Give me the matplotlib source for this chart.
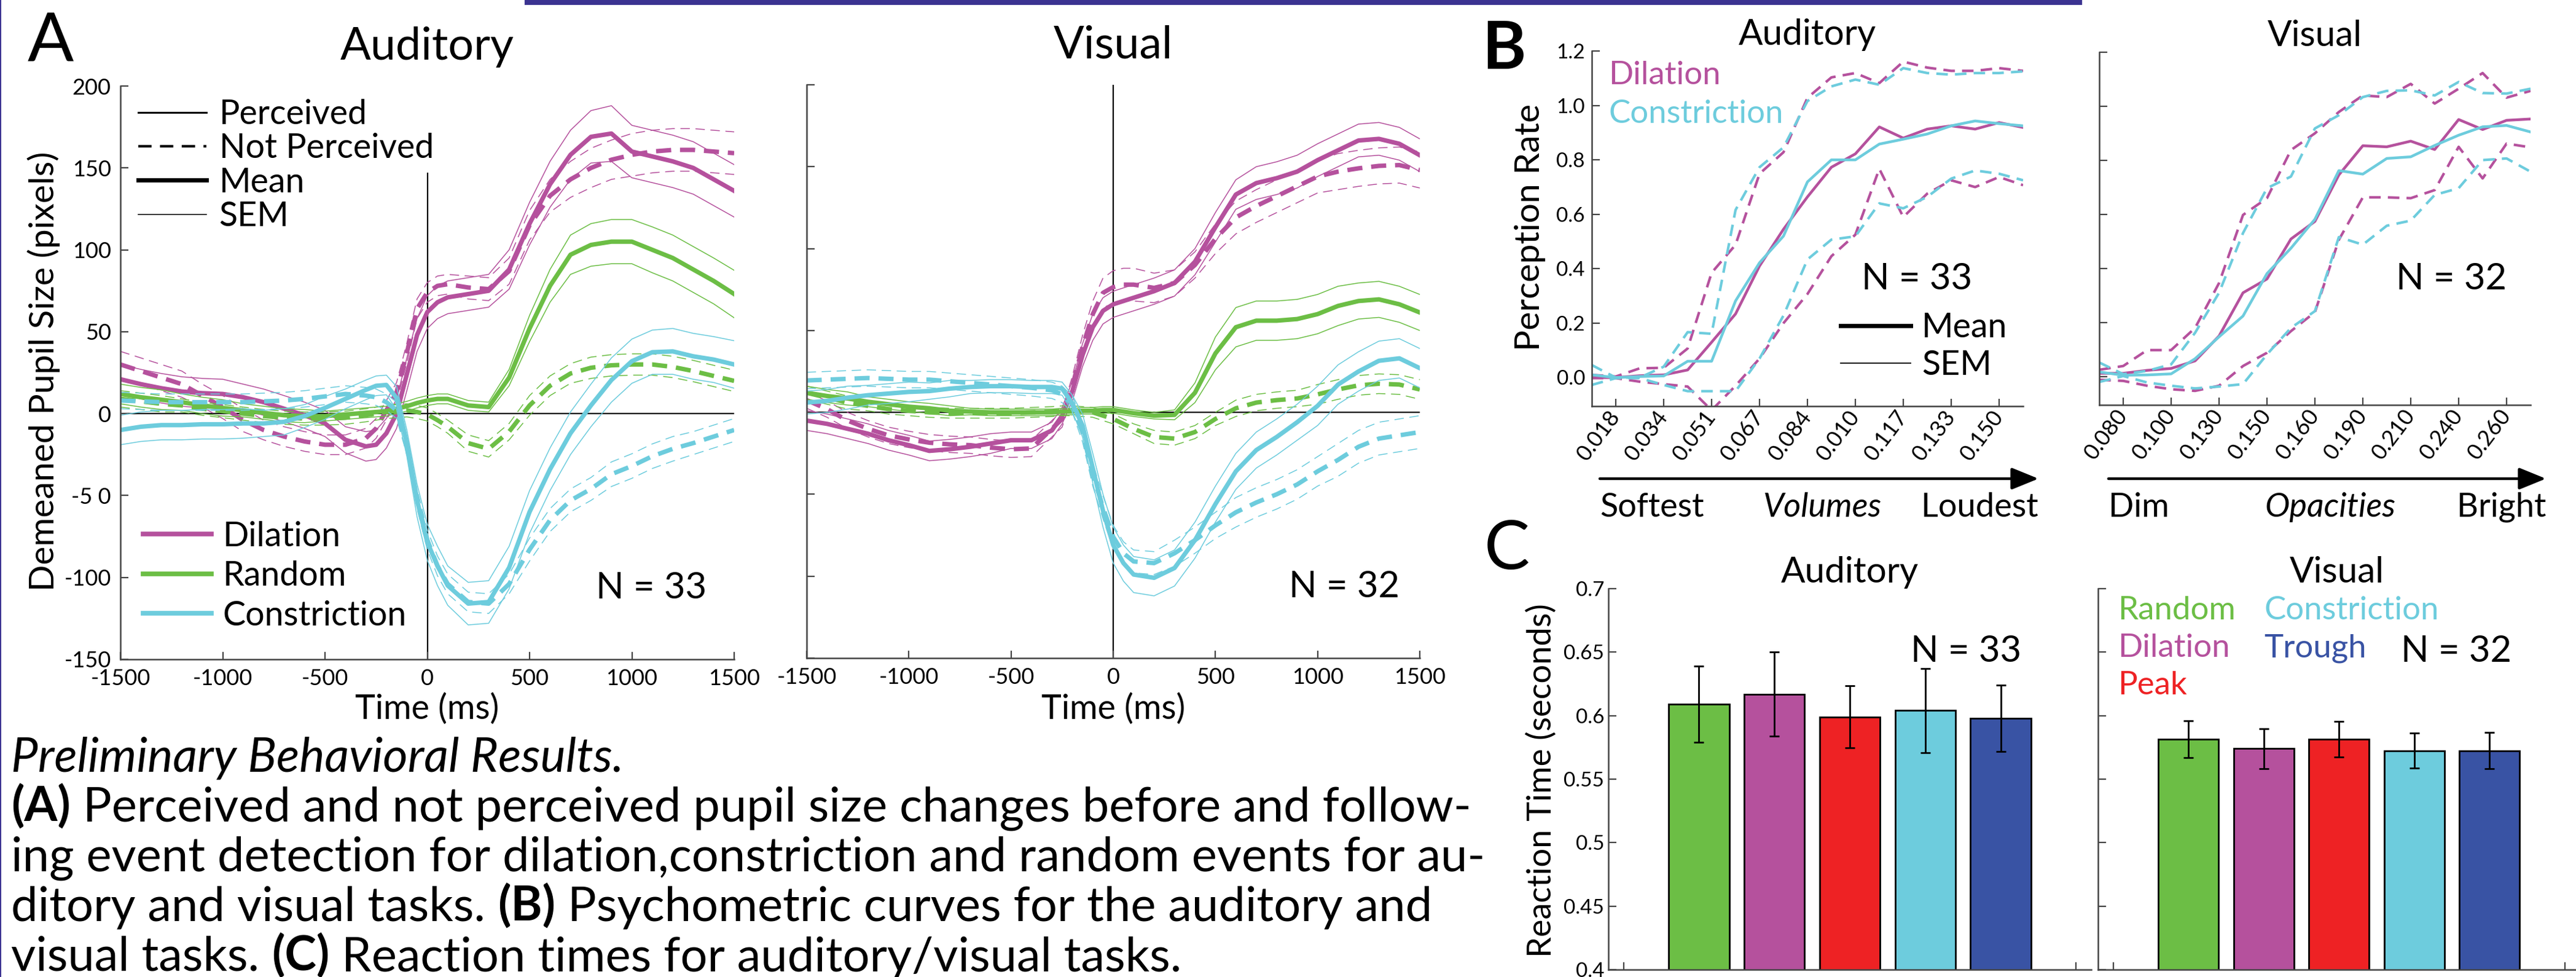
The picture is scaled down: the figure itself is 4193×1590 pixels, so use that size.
import numpy as np
import matplotlib.pyplot as plt
from matplotlib.lines import Line2D
from matplotlib.patches import Rectangle

plt.rcParams['font.family'] = ['Lato', 'DejaVu Sans']
plt.rcParams['axes.unicode_minus'] = False

# ============================================================
# Colours
# ============================================================
MAGENTA = '#B5519D'
GREEN = '#6CBE45'
CYAN = '#6DCCDD'
RED = '#EE2224'
BLUE = '#3953A4'
GREY = '#444444'
INDIGO = '#3B3391'

# ============================================================
# (A) pupil size time courses (pixels)
# ============================================================
T_MS = [-1500, -1400, -1300, -1200, -1100, -1000, -900, -800, -700, -600,
        -500, -400, -300, -250, -200, -150, -100, -50, 0, 50,
        100, 200, 300, 400, 500, 600, 700, 800, 900, 1000,
        1100, 1200, 1300, 1400, 1500]

# auditory
aud_dil_p = [21, 18, 15.5, 13.5, 12.5, 12, 10, 7, 3, -1,
             -6, -16, -20, -19, -12, 0, 24, 48, 62, 68,
             71, 73, 75, 88, 116, 140, 158, 169, 171, 160,
             157, 154, 150, 143, 136]
aud_dil_p_sem = [9, 9, 9, 9, 9, 9, 8, 8, 8, 8,
                 8, 8, 9, 9, 9, 9, 10, 10, 10, 10,
                 10, 10, 10, 12, 13, 14, 15, 16, 17, 16,
                 16, 16, 16, 16, 16]
aud_dil_np = [30, 26, 22, 18, 11, 4, -4, -10, -14, -17,
              -19, -19, -15, -9, 2, 13, 37, 64, 74, 78,
              79, 77, 76, 87, 115, 133, 143, 150, 155, 158,
              160, 161, 161, 160, 159]
aud_dil_np_sem = [8, 8, 8, 8, 7, 7, 7, 6, 6, 6,
                  6, 6, 6, 6, 6, 6, 6, 6, 6, 6,
                  6, 7, 7, 8, 9, 10, 11, 12, 12, 13,
                  13, 13, 13, 13, 13]
aud_rand_p = [12, 10, 8.5, 7, 5, 3.5, 2, 0.5, -1, -1.5,
              -1.5, -0.5, 0.5, 1, 1.5, 3, 4.5, 6.5, 8, 9,
              9, 5, 4, 22, 52, 78, 97, 103, 105, 105,
              100, 95, 88, 81, 73]
aud_rand_p_sem = [6, 6, 6, 5, 5, 5, 4, 4, 4, 4,
                  3, 3, 3, 3, 3, 3, 3, 3, 3, 3,
                  3, 3, 3, 5, 8, 10, 12, 13, 13.5, 13.5,
                  14, 14, 14, 14, 14.5]
aud_rand_np = [9, 7.5, 6, 5, 3, 1.5, 0, -1.5, -2.5, -3,
               -3, -2.5, -1, 0, 1, 1.5, 2, 1, -0.5, -4,
               -8, -18, -21.5, -11, 5, 17, 24.5, 28, 29.5, 30,
               30, 28.5, 26, 23, 20]
aud_rand_np_sem = [5, 5, 5, 4, 4, 4, 4, 4, 4, 4,
                   4, 4, 4, 4, 4, 4, 4, 4, 4, 4,
                   4, 5, 5, 5, 6, 6, 6, 6.5, 6.5, 6.5,
                   6.5, 6.5, 6.5, 6.5, 6.5]
aud_con_p = [-10, -8, -7, -7, -6.5, -6.5, -6, -6, -5, -1.5,
             3.5, 9, 14.5, 17, 17.5, 9.5, -18, -53, -78.5, -93,
             -105, -116, -115, -94, -60, -34, -12, 5, 20.5, 32,
             37.5, 38, 35, 33, 30]
aud_con_p_sem = [9, 9, 9, 9, 9, 9, 9, 8, 8, 7,
                 7, 6, 6, 6, 6, 7, 8, 10, 11, 12,
                 12, 13, 13, 13, 13, 13, 13, 13, 13.5, 13.5,
                 13.5, 14, 14, 14, 14.5]
aud_con_np = [8, 7.5, 7, 7, 7, 7, 7, 7.5, 8, 9,
              10.5, 12, 11, 10, 7, 2, -20, -52, -77, -93,
              -104, -115, -116, -104, -83, -65, -53, -46, -37, -32,
              -26, -21.5, -18, -14, -10]
aud_con_np_sem = [5, 5, 5, 5, 5, 5, 5, 5, 5, 5,
                  5, 5, 5, 5, 5, 5, 5, 6, 6, 6,
                  6, 6, 6, 6, 7, 7, 7, 7, 7.5, 7.5,
                  7.5, 7.5, 7, 7, 7]

# visual
vis_dil_p = [-5, -7, -10, -13, -17, -20, -23.5, -22.5, -21, -19,
             -17, -17, -11, -2, 13, 35, 52, 62, 66, 68,
             70, 74, 79, 92, 113, 133, 140, 143, 147, 154,
             160, 166, 167, 164, 157]
vis_dil_p_sem = [6, 6, 6, 6, 6, 6, 6, 6, 6, 6,
                 5, 5, 5, 5, 6, 7, 8, 8, 8, 8,
                 8, 8, 8, 8, 9, 9, 10, 10, 10, 10,
                 10, 10, 10, 10, 10]
vis_dil_np = [7.5, 2, -5, -10, -14, -16.5, -18.5, -19.5, -20, -21.5,
              -22.5, -22, -10, -4, 16, 40, 60, 73, 76.5, 78,
              78, 76, 79, 90, 106, 119, 126, 132, 138, 144,
              147, 149, 150.5, 151, 148]
vis_dil_np_sem = [5, 5, 5, 5, 5, 5, 5, 5, 5, 5,
                  5, 5, 5, 5, 6, 7, 8, 9, 10, 10,
                  10, 9, 8, 8, 9, 10, 10, 10, 10, 10,
                  11, 11, 11, 11, 11]
vis_rand_p = [12, 10, 8.5, 6.5, 5, 3.5, 2.5, 1, 0.5, 0,
              0, 0, 0, 0.5, 0.5, 1, 1, 1.5, 1.5, 0.5,
              -0.5, -2, -1.5, 12, 36, 52, 56, 56, 57, 60,
              65, 68, 69, 66, 61]
vis_rand_p_sem = [4, 4, 4, 3, 3, 3, 3, 3, 2, 2,
                  2, 2, 2, 2, 2, 2, 2, 2, 2, 2,
                  2, 2, 3, 6, 10, 12, 12, 12, 12, 12,
                  12, 11, 11, 11, 11]
vis_rand_np = [12, 9, 6, 4, 2, 1, 0, -0.5, -0.5, -0.5,
               -0.5, 0, 0.5, 1, 1, 0.5, 0, -2, -4, -7,
               -10, -15, -16, -12, -4, 2.5, 6, 7.5, 8.5, 11,
               14, 16.5, 17.5, 17, 14]
vis_rand_np_sem = [4, 4, 4, 3, 3, 3, 3, 3, 3, 3,
                   3, 3, 3, 3, 3, 3, 3, 3, 3, 3,
                   3, 4, 4, 4, 4, 5, 5, 5, 5, 6,
                   6, 6, 6, 6, 6]
vis_con_p = [6, 7, 9, 10.5, 11.5, 12.5, 13, 14.5, 15.5, 16,
             16, 15.5, 15.5, 14.5, 5.5, -8, -34, -60, -81, -92,
             -99, -101, -95, -78, -56, -36, -23, -15, -6, 4,
             17, 25, 31.5, 33, 27]
vis_con_p_sem = [7, 7, 7, 6, 6, 6, 5, 5, 4, 4,
                 4, 4, 4, 4, 5, 7, 9, 10, 11, 11,
                 11, 11, 11, 11, 11, 11, 11, 11, 11, 12,
                 12, 12, 12, 12, 12]
vis_con_np = [19.5, 20, 20.5, 21, 20.5, 20, 20, 19, 18, 17,
              16, 15, 13.5, 11, 5, -12, -38, -58, -76, -86,
              -91, -92, -86, -78, -69, -61, -55, -50, -44, -36,
              -29, -21, -16, -14, -12]
vis_con_np_sem = [5, 5, 5, 5, 5, 5, 5, 5, 5, 5,
                  5, 5, 5, 5, 5, 6, 7, 7, 7, 7,
                  7, 7, 8, 8, 8, 9, 9, 9, 9, 9,
                  10, 10, 10, 10, 10]

A_XTICKS = [-1500, -1000, -500, 0, 500, 1000, 1500]
A_XTICKLABELS = ['-1500', '-1000', '-500', '0', '500', '1000', '1500']
A_YTICKS = [-150, -100, -50, 0, 50, 100, 150, 200]
A_YTICKLABELS = ['-150', '-100', '-5 0', '0', '50', '100', '150', '200']

# ============================================================
# (B) psychometric curves (19 stimulus levels)
# ============================================================
LEVELS = np.arange(1, 20)
aud_level_labels = ['0.018', '0.034', '0.051', '0.067', '0.084',
                    '0.010', '0.117', '0.133', '0.150']
vis_level_labels = ['0.080', '0.100', '0.130', '0.150', '0.160',
                    '0.190', '0.210', '0.240', '0.260']

aud_dil_mean = [0.0, 0.0, 0.007, 0.01, 0.028, 0.13, 0.234, 0.41, 0.545, 0.664,
                0.773, 0.822, 0.921, 0.88, 0.913, 0.925, 0.913, 0.937, 0.919]
aud_dil_hi = [0.01, 0.004, 0.034, 0.036, 0.107, 0.385, 0.488, 0.749, 0.828, 1.028,
              1.103, 1.119, 1.082, 1.161, 1.139, 1.127, 1.127, 1.137, 1.127]
aud_dil_lo = [-0.002, -0.002, -0.015, -0.024, -0.033, -0.12, -0.03, 0.07, 0.2, 0.307,
              0.446, 0.525, 0.767, 0.59, 0.676, 0.725, 0.7, 0.737, 0.707]
aud_con_mean = [0.01, 0.0, 0.004, 0.006, 0.06, 0.06, 0.282, 0.422, 0.52, 0.719,
                0.8, 0.8, 0.858, 0.876, 0.895, 0.925, 0.943, 0.933, 0.925]
aud_con_hi = [0.046, 0.0, 0.0, 0.04, 0.167, 0.161, 0.616, 0.773, 0.846, 1.016,
              1.07, 1.095, 1.076, 1.137, 1.119, 1.113, 1.119, 1.119, 1.125]
aud_con_lo = [-0.027, -0.002, -0.002, -0.027, -0.05, -0.05, -0.05, 0.07, 0.228, 0.434,
              0.507, 0.519, 0.64, 0.622, 0.664, 0.731, 0.761, 0.749, 0.725]

vis_dil_mean = [0.012, 0.012, 0.023, 0.03, 0.058, 0.15, 0.31, 0.361, 0.509, 0.574,
                0.746, 0.854, 0.85, 0.871, 0.84, 0.951, 0.914, 0.948, 0.953]
vis_dil_hi = [0.025, 0.039, 0.098, 0.098, 0.18, 0.346, 0.598, 0.66, 0.838, 0.9,
              0.979, 1.04, 1.034, 1.083, 1.01, 1.065, 1.123, 1.032, 1.057]
vis_dil_lo = [-0.012, -0.016, -0.034, -0.047, -0.053, -0.034, 0.039, 0.088, 0.168, 0.238,
              0.506, 0.663, 0.663, 0.66, 0.69, 0.85, 0.733, 0.862, 0.848]
vis_con_mean = [0.017, 0.005, 0.006, 0.01, 0.066, 0.147, 0.224, 0.381, 0.475, 0.582,
                0.762, 0.749, 0.807, 0.813, 0.855, 0.893, 0.924, 0.929, 0.905]
vis_con_hi = [0.052, 0.009, 0.021, 0.045, 0.162, 0.31, 0.531, 0.697, 0.74, 0.918,
              0.967, 1.034, 1.057, 1.059, 1.04, 1.09, 1.049, 1.047, 1.065]
vis_con_lo = [-0.02, 0.002, -0.022, -0.034, -0.044, -0.037, -0.028, 0.082, 0.18, 0.242,
              0.516, 0.488, 0.558, 0.577, 0.672, 0.697, 0.801, 0.807, 0.758]

B_YTICKS = [0.0, 0.2, 0.4, 0.6, 0.8, 1.0, 1.2]
B_YTICKLABELS = ['0.0', '0.2', '0.4', '0.6', '0.8', '1.0', '1.2']

# ============================================================
# (C) reaction times (seconds)
# ============================================================
rt_conditions = ['Random', 'Dilation', 'Peak', 'Constriction', 'Trough']
rt_colors = [GREEN, MAGENTA, RED, CYAN, BLUE]
rt_aud = [0.609, 0.617, 0.599, 0.604, 0.598]
rt_aud_err = [0.030, 0.033, 0.0245, 0.033, 0.026]
rt_vis = [0.5815, 0.574, 0.5815, 0.5725, 0.5725]
rt_vis_err = [0.0145, 0.0158, 0.014, 0.0137, 0.0143]

C_YTICKS = [0.4, 0.45, 0.5, 0.55, 0.6, 0.65, 0.7]
C_YTICKLABELS = ['0.4', '0.45', '0.5', '0.55', '0.6', '0.65', '0.7']

# ============================================================
# Caption
# ============================================================
CAPTION = [
    [('Preliminary Behavioral Results.', 'normal', 'italic')],
    [('(A)', 'bold', 'normal'),
     ('Perceived and not perceived pupil size changes before and follow-', 'normal', 'normal')],
    [('ing event detection for dilation,constriction and random events for au-', 'normal', 'normal')],
    [('ditory and visual tasks.', 'normal', 'normal'), ('(B)', 'bold', 'normal'),
     ('Psychometric curves for the auditory and', 'normal', 'normal')],
    [('visual tasks.', 'normal', 'normal'), ('(C)', 'bold', 'normal'),
     ('Reaction times for auditory/visual tasks.', 'normal', 'normal')],
]

# ============================================================
# Figure / layout helpers (pixel positions of the original)
# ============================================================
W_PX, H_PX = 4193, 1590
fig = plt.figure(figsize=(W_PX / 100, H_PX / 100), dpi=100)
fig.patch.set_facecolor('white')


def fx(px):
    return px / W_PX


def fy(py):
    return 1 - py / H_PX


def axes_px(left, top, right, bottom):
    return fig.add_axes([fx(left), fy(bottom), (right - left) / W_PX, (bottom - top) / H_PX])


def matlab_style(ax, labelsize, pad):
    for side in ('top', 'right'):
        ax.spines[side].set_visible(False)
    for side in ('left', 'bottom'):
        ax.spines[side].set_color(GREY)
        ax.spines[side].set_linewidth(1.8)
    ax.tick_params(direction='in', length=9, width=1.6, color=GREY,
                   labelsize=labelsize, pad=pad)


def draw_pupil(ax, series):
    t = np.array(T_MS)
    for mean, sem, color, dashed in series:
        mean = np.array(mean, dtype=float)
        sem = np.array(sem, dtype=float)
        thin = (0, (10, 6)) if dashed else '-'
        thick = (0, (3.4, 2)) if dashed else '-'
        ax.plot(t, mean + sem, color=color, lw=1.1, ls=thin)
        ax.plot(t, mean - sem, color=color, lw=1.1, ls=thin)
        ax.plot(t, mean, color=color, lw=5.2, ls=thick)
    ax.axhline(0, color='black', lw=1.6, zorder=1)
    ax.set_xlim(-1500, 1500)
    ax.set_ylim(-150, 200)
    ax.set_xticks(A_XTICKS)
    ax.set_xticklabels(A_XTICKLABELS)
    ax.set_yticks(A_YTICKS)
    matlab_style(ax, 26, 11)
    ax.set_xlabel('Time (ms)', fontsize=40, va='center')


def draw_psycho(ax, curves, ticklabels):
    for mean, hi, lo, color in curves:
        ax.plot(LEVELS, hi, color=color, lw=3, ls=(0, (4.5, 2.8)))
        ax.plot(LEVELS, lo, color=color, lw=3, ls=(0, (4.5, 2.8)))
        ax.plot(LEVELS, mean, color=color, lw=3.2)
    ax.set_xlim(1, 19)
    ax.set_ylim(-0.105, 1.2)
    ax.set_xticks(LEVELS[1::2])
    ax.set_xticklabels(ticklabels, rotation=53, ha='right', va='center',
                       rotation_mode='anchor')
    ax.set_yticks(B_YTICKS)
    matlab_style(ax, 24, 8)
    ax.tick_params(axis='x', labelsize=26)


def draw_rt(ax, values, errs):
    pos = np.arange(1, len(values) + 1)
    bars = ax.bar(pos, values, width=0.8, color=rt_colors, edgecolor='black', linewidth=2)
    ax.errorbar(pos, values, yerr=errs, fmt='none', ecolor='black',
                elinewidth=2, capsize=6, capthick=2)
    ax.set_xlim(-0.2, 6.2)
    ax.set_ylim(0.4, 0.7)
    ax.set_xticks(range(0, 7))
    ax.set_xticklabels([])
    ax.set_yticks(C_YTICKS)
    ax.set_axisbelow(True)
    matlab_style(ax, 24, 5)
    return bars


# ============================================================
# Panel A
# ============================================================
ax_a1 = axes_px(196, 140, 1195, 1073)
draw_pupil(ax_a1, [
    (aud_dil_p, aud_dil_p_sem, MAGENTA, False),
    (aud_dil_np, aud_dil_np_sem, MAGENTA, True),
    (aud_rand_p, aud_rand_p_sem, GREEN, False),
    (aud_rand_np, aud_rand_np_sem, GREEN, True),
    (aud_con_p, aud_con_p_sem, CYAN, False),
    (aud_con_np, aud_con_np_sem, CYAN, True),
])
ax_a1.vlines(0, -150, 147, color='black', lw=1.6, zorder=1)
ax_a1.set_yticklabels(A_YTICKLABELS)
ax_a1.set_title('Auditory', fontsize=53, pad=31)
ax_a1.set_ylabel('Demeaned Pupil Size (pixels)', fontsize=41, va='center')
ax_a1.yaxis.set_label_coords(-0.125, 0.502)
ax_a1.xaxis.set_label_coords(0.5, -0.087)
ax_a1.text(0.865, 0.124, 'N = 33', transform=ax_a1.transAxes, fontsize=43,
           ha='center', va='center')

style_handles = [Line2D([], [], color='black', lw=2.2),
                 Line2D([], [], color='black', lw=3, ls=(0, (5.2, 3.3))),
                 Line2D([], [], color='black', lw=5),
                 Line2D([], [], color='black', lw=1.1)]
leg_style = ax_a1.legend(style_handles, ['Perceived', 'Not Perceived', 'Mean', 'SEM'],
                         loc='center left', bbox_to_anchor=(0.029, 0.861), frameon=False,
                         fontsize=40, handlelength=2.0, handletextpad=0.37,
                         labelspacing=0.08, borderpad=0, borderaxespad=0)
ax_a1.add_artist(leg_style)
color_handles = [Line2D([], [], color=c, lw=5.5) for c in (MAGENTA, GREEN, CYAN)]
ax_a1.legend(color_handles, ['Dilation', 'Random', 'Constriction'],
             loc='center left', bbox_to_anchor=(0.037, 0.145), frameon=False,
             fontsize=40, handlelength=2.0, handletextpad=0.33,
             labelspacing=0.24, borderpad=0, borderaxespad=0)

ax_a2 = axes_px(1313, 138, 2311, 1071)
draw_pupil(ax_a2, [
    (vis_dil_p, vis_dil_p_sem, MAGENTA, False),
    (vis_dil_np, vis_dil_np_sem, MAGENTA, True),
    (vis_rand_p, vis_rand_p_sem, GREEN, False),
    (vis_rand_np, vis_rand_np_sem, GREEN, True),
    (vis_con_p, vis_con_p_sem, CYAN, False),
    (vis_con_np, vis_con_np_sem, CYAN, True),
])
ax_a2.axvline(0, color='black', lw=1.6, zorder=1)
ax_a2.set_yticklabels([])
ax_a2.set_title('Visual', fontsize=53, pad=31)
ax_a2.xaxis.set_label_coords(0.5, -0.089)
ax_a2.text(0.877, 0.124, 'N = 32', transform=ax_a2.transAxes, fontsize=43,
           ha='center', va='center')

# ============================================================
# Panel B
# ============================================================
ax_b1 = axes_px(2591, 83, 3293, 661)
draw_psycho(ax_b1, [(aud_dil_mean, aud_dil_hi, aud_dil_lo, MAGENTA),
                    (aud_con_mean, aud_con_hi, aud_con_lo, CYAN)], aud_level_labels)
ax_b1.set_yticklabels(B_YTICKLABELS)
ax_b1.set_title('Auditory', fontsize=42, pad=1.5)
ax_b1.set_ylabel('Perception Rate', fontsize=41, va='center')
ax_b1.yaxis.set_label_coords(-0.1425, 0.503)
ax_b1.text(0.7536, 0.358, 'N = 33', transform=ax_b1.transAxes, fontsize=43,
           ha='center', va='center')
leg_b_names = ax_b1.legend([Line2D([], []), Line2D([], [])], ['Dilation', 'Constriction'],
                           loc='center left', bbox_to_anchor=(0.0385, 0.877), frameon=False,
                           fontsize=38, handlelength=0, handletextpad=0,
                           labelspacing=0.3, borderpad=0, borderaxespad=0,
                           labelcolor=[MAGENTA, CYAN])
ax_b1.add_artist(leg_b_names)
ax_b1.legend([Line2D([], [], color='black', lw=5), Line2D([], [], color='black', lw=1.3)],
             ['Mean', 'SEM'], loc='center left', bbox_to_anchor=(0.577, 0.167),
             frameon=False, fontsize=40, handlelength=2.05, handletextpad=0.33,
             labelspacing=0.18, borderpad=0, borderaxespad=0)

ax_b2 = axes_px(3417, 85, 4119, 659)
draw_psycho(ax_b2, [(vis_dil_mean, vis_dil_hi, vis_dil_lo, MAGENTA),
                    (vis_con_mean, vis_con_hi, vis_con_lo, CYAN)], vis_level_labels)
ax_b2.set_yticklabels([])
ax_b2.set_title('Visual', fontsize=42, pad=1.5)
ax_b2.text(0.816, 0.358, 'N = 32', transform=ax_b2.transAxes, fontsize=43,
           ha='center', va='center')

# stimulus-direction arrows under panel B
for x0, x1, left, mid, right in ((2604, 3318, 'Softest', 'Volumes', 'Loudest'),
                                 (3432, 4144, 'Dim', 'Opacities', 'Bright')):
    fig.add_artist(plt.Annotation('', xy=(fx(x1), fy(779)), xytext=(fx(x0), fy(779)),
                                  xycoords='figure fraction', textcoords='figure fraction',
                                  arrowprops=dict(arrowstyle='-|>,head_length=1.35,head_width=0.55',
                                                  mutation_scale=20, lw=3.2, color='black',
                                                  shrinkA=0, shrinkB=0)))
    fig.text(fx(x0), fy(841), left, fontsize=39, ha='left', va='baseline')
    fig.text(fx((x0 + x1) / 2 + 5), fy(841), mid, fontsize=39, ha='center', va='baseline',
             fontstyle='italic')
    fig.text(fx(x1), fy(841), right, fontsize=39, ha='right', va='baseline')

# ============================================================
# Panel C
# ============================================================
ax_c1 = axes_px(2618, 958, 3404, 1578)
draw_rt(ax_c1, rt_aud, rt_aud_err)
ax_c1.set_yticklabels(C_YTICKLABELS)
ax_c1.set_title('Auditory', fontsize=42, pad=3.5)
ax_c1.set_ylabel('Reaction Time (seconds)', fontsize=39, va='center')
ax_c1.yaxis.set_label_coords(-0.1387, 0.497)
ax_c1.text(0.740, 0.835, 'N = 33', transform=ax_c1.transAxes, fontsize=43,
           ha='center', va='center')

ax_c2 = axes_px(3415, 958, 4193, 1578)
bars_vis = draw_rt(ax_c2, rt_vis, rt_vis_err)
ax_c2.set_xlim(-0.2, 6.15)
ax_c2.set_yticklabels([])
ax_c2.set_title('Visual', fontsize=42, pad=3.5)
ax_c2.text(0.749, 0.835, 'N = 32', transform=ax_c2.transAxes, fontsize=43,
           ha='center', va='center')
leg_c = ax_c2.legend(list(bars_vis), rt_conditions, ncol=2, loc='center left',
                     bbox_to_anchor=(0.041, 0.844), frameon=False, fontsize=38,
                     handlelength=0, handletextpad=0, labelspacing=0.26,
                     columnspacing=0.89, borderpad=0, borderaxespad=0,
                     labelcolor=rt_colors)
for h in leg_c.legend_handles:
    h.set_visible(False)

# ============================================================
# Panel letters, decorations
# ============================================================
fig.text(fx(82), fy(101), 'A', fontsize=80, ha='center', va='baseline')
fig.text(fx(2448), fy(112), 'B', fontsize=78, ha='center', va='baseline', fontweight='bold')
fig.text(fx(2453), fy(926), 'C', fontsize=80, ha='center', va='baseline')

fig.add_artist(Rectangle((fx(854), fy(8)), fx(3389) - fx(854), 8 / H_PX,
                         transform=fig.transFigure, color=INDIGO, lw=0))
fig.add_artist(Rectangle((0, 0), 2 / W_PX, 1, transform=fig.transFigure, color=INDIGO, lw=0))

# ============================================================
# Caption (runs of regular / bold / italic text)
# ============================================================
CAP_SIZE = 56
renderer = fig.canvas.get_renderer()
probe_a = fig.text(0, 0, 'n n', fontsize=CAP_SIZE)
probe_b = fig.text(0, 0, 'nn', fontsize=CAP_SIZE)
space_px = probe_a.get_window_extent(renderer).width - probe_b.get_window_extent(renderer).width
probe_a.remove()
probe_b.remove()

baselines = [1256, 1337, 1418, 1499, 1580]
for runs, base in zip(CAPTION, baselines):
    x = 18
    for text, weight, style in runs:
        t = fig.text(fx(x), fy(base), text, fontsize=CAP_SIZE, fontweight=weight,
                     fontstyle=style, ha='left', va='baseline')
        x += t.get_window_extent(renderer).width + space_px

fig.savefig('out.png', dpi=100, facecolor='white')
